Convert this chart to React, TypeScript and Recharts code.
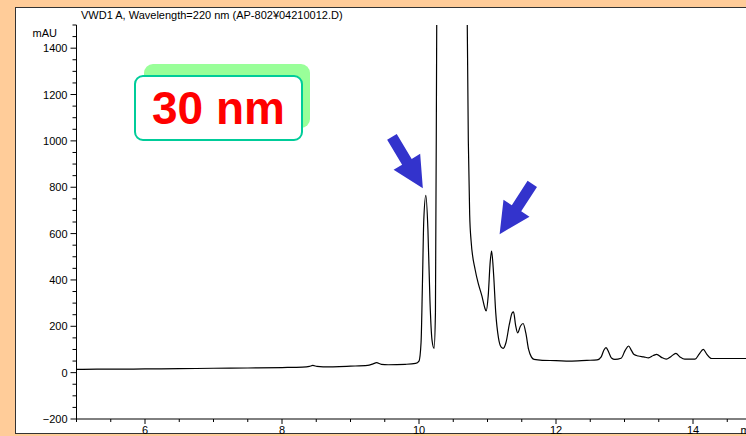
import { Line, LineChart, ReferenceDot, XAxis, YAxis } from 'recharts';

// VWD1 A trace, 220 nm
const TIMES = [
  5.0, 5.3, 5.6, 6.0, 6.5, 7.0, 7.5, 8.0, 8.3, 8.4, 8.45, 8.51, 8.6, 9.0, 9.25, 9.33, 9.38, 9.45, 9.55, 9.8,
  9.95, 10.0, 10.03, 10.05, 10.07, 10.1, 10.13, 10.16, 10.19, 10.22, 10.24, 10.26, 10.3, 10.45, 10.62, 10.69,
  10.72, 10.74, 10.76, 10.82, 10.87, 10.92, 10.96, 10.98, 11.01, 11.04, 11.06, 11.09, 11.12, 11.16, 11.2,
  11.23, 11.27, 11.32, 11.36, 11.38, 11.41, 11.44, 11.48, 11.52, 11.56, 11.6, 11.64, 11.68, 11.8, 12.0, 12.2,
  12.45, 12.6, 12.66, 12.7, 12.73, 12.77, 12.81, 12.86, 12.95, 13.01, 13.06, 13.1, 13.14, 13.2, 13.28, 13.35,
  13.42, 13.47, 13.54, 13.61, 13.68, 13.75, 13.81, 13.88, 14.03, 14.09, 14.15, 14.2, 14.27, 14.6, 15.0,
];
const ABSORBANCE = [
  14, 15, 15, 16, 17, 19, 20, 22, 24, 27, 31, 27, 25, 28, 31, 38, 43, 36, 34, 36,
  40, 50, 130, 380, 660, 765, 620, 310, 140, 105, 260, 1600, 2800, 3400, 3000, 2000,
  1000, 680, 570, 444, 380, 329, 280, 266, 330, 480, 524, 420, 260, 150, 110,
  105, 130, 210, 258, 262, 205, 172, 200, 212, 170, 100, 68, 57, 53, 52, 50,
  53, 55, 68, 98, 108, 88, 63, 57, 62, 96, 115, 96, 78, 72, 68, 64,
  74, 79, 66, 58, 70, 83, 68, 58, 58, 80, 100, 80, 61, 61, 61,
];

// peaks marked with arrows: [time, mAU]
const MARKED_PEAKS = [
  [10.1, 765],
  [11.06, 524],
];

const X_TICKS = Array.from({ length: 21 }, (_, i) => 5 + i * 0.5);
const X_LABELS = [6, 8, 10, 12, 14];
const Y_TICKS = Array.from({ length: 35 }, (_, i) => -200 + i * 50);
const Y_LABELS = [-200, 0, 200, 400, 600, 800, 1000, 1200, 1400];

const data = TIMES.map((t, i) => ({ t, v: ABSORBANCE[i] }));

const FONT = '"Liberation Sans", Arial, sans-serif';
const PLOT_LEFT = 76.5;
const PLOT_BOTTOM = 419;

function YTick({ y, payload }: any) {
  const v = payload.value;
  if (v === 1500) {
    return (
      <g>
        <line x1={PLOT_LEFT - 4} x2={PLOT_LEFT} y1={y} y2={y} stroke="#000" />
        <text x={57} y={y + 12} textAnchor="end" fontSize={11} fontFamily={FONT} fill="#000">
          mAU
        </text>
      </g>
    );
  }
  const major = Y_LABELS.includes(v);
  return (
    <g>
      <line x1={PLOT_LEFT - (major ? 6 : 4)} x2={PLOT_LEFT} y1={y} y2={y} stroke="#000" />
      {major && (
        <text x={PLOT_LEFT - 9} y={y + 4} textAnchor="end" fontSize={11} fontFamily={FONT} fill="#000">
          {v === -200 ? '\u2212200' : v}
        </text>
      )}
    </g>
  );
}

function XTick({ x, payload }: any) {
  const v = payload.value;
  if (v === 15) {
    return (
      <text x={x - 21} y={PLOT_BOTTOM + 15} fontSize={11} fontFamily={FONT} fill="#000">
        min
      </text>
    );
  }
  const major = X_LABELS.includes(v);
  return (
    <g>
      <line x1={x} x2={x} y1={PLOT_BOTTOM} y2={PLOT_BOTTOM + (major ? 5 : 3)} stroke="#000" />
      {major && (
        <text x={x} y={PLOT_BOTTOM + 15} textAnchor="middle" fontSize={11} fontFamily={FONT} fill="#000">
          {v}
        </text>
      )}
    </g>
  );
}

// block arrow pointing down, tip at the origin, then rotated
function Arrow({ cx, cy, dx, dy, angle }: any) {
  const tx = cx + dx;
  const ty = cy + dy;
  return (
    <polygon
      points="0,0 -15.5,-31 -5.6,-31 -5.6,-60 5.6,-60 5.6,-31 15.5,-31"
      fill="#3333cc"
      transform={`translate(${tx},${ty}) rotate(${angle})`}
    />
  );
}

const ARROW_STYLE = [
  { dx: -3, dy: -7, angle: -31 },
  { dx: 8, dy: -17, angle: 33 },
];

export default function App() {
  return (
    <div
      style={{
        position: 'absolute',
        left: 0,
        top: 0,
        width: 746,
        height: 436,
        overflow: 'hidden',
        background: '#ffcc99',
      }}
    >
      <div
        style={{
          position: 'absolute',
          left: 15,
          top: 7,
          width: 800,
          height: 427,
          boxSizing: 'border-box',
          background: '#fff',
          border: '1px solid #333',
        }}
      />
      <div
        style={{
          position: 'absolute',
          left: 81,
          top: 9,
          fontFamily: FONT,
          fontSize: 11,
          color: '#000',
          whiteSpace: 'nowrap',
        }}
      >
        VWD1 A, Wavelength=220 nm (AP-802¥04210012.D)
      </div>
      <div style={{ position: 'absolute', left: 0, top: 0 }}>
        <LineChart width={780} height={436} data={data} margin={{ top: 25, right: 18.5, bottom: 0, left: 0 }}>
          <XAxis
            dataKey="t"
            type="number"
            domain={[5, 15]}
            ticks={X_TICKS}
            interval={0}
            height={17}
            tickLine={false}
            tick={<XTick />}
            axisLine={{ stroke: '#000' }}
            allowDataOverflow
          />
          <YAxis
            type="number"
            domain={[-200, 1500]}
            ticks={Y_TICKS}
            interval={0}
            width={PLOT_LEFT}
            tickLine={false}
            tick={<YTick />}
            axisLine={{ stroke: '#000' }}
            allowDataOverflow
          />
          <Line
            type="monotone"
            dataKey="v"
            stroke="#000"
            strokeWidth={1.2}
            dot={false}
            isAnimationActive={false}
          />
          {MARKED_PEAKS.map(([t, v], i) => (
            <ReferenceDot
              key={i}
              x={t}
              y={v}
              shape={(p: any) => <Arrow cx={p.cx} cy={p.cy} {...ARROW_STYLE[i]} />}
            />
          ))}
        </LineChart>
      </div>
      <div
        style={{
          position: 'absolute',
          left: 144,
          top: 64,
          width: 166,
          height: 64,
          borderRadius: 9,
          background: '#99ff99',
        }}
      />
      <div
        style={{
          position: 'absolute',
          left: 134,
          top: 75,
          width: 169,
          height: 66,
          boxSizing: 'border-box',
          borderRadius: 9,
          border: '2px solid #00cc99',
          background: '#fff',
          display: 'flex',
          alignItems: 'center',
          justifyContent: 'center',
          fontFamily: FONT,
          fontWeight: 'bold',
          fontSize: 46,
          color: '#ff0000',
          whiteSpace: 'nowrap',
        }}
      >
        30 nm
      </div>
    </div>
  );
}
